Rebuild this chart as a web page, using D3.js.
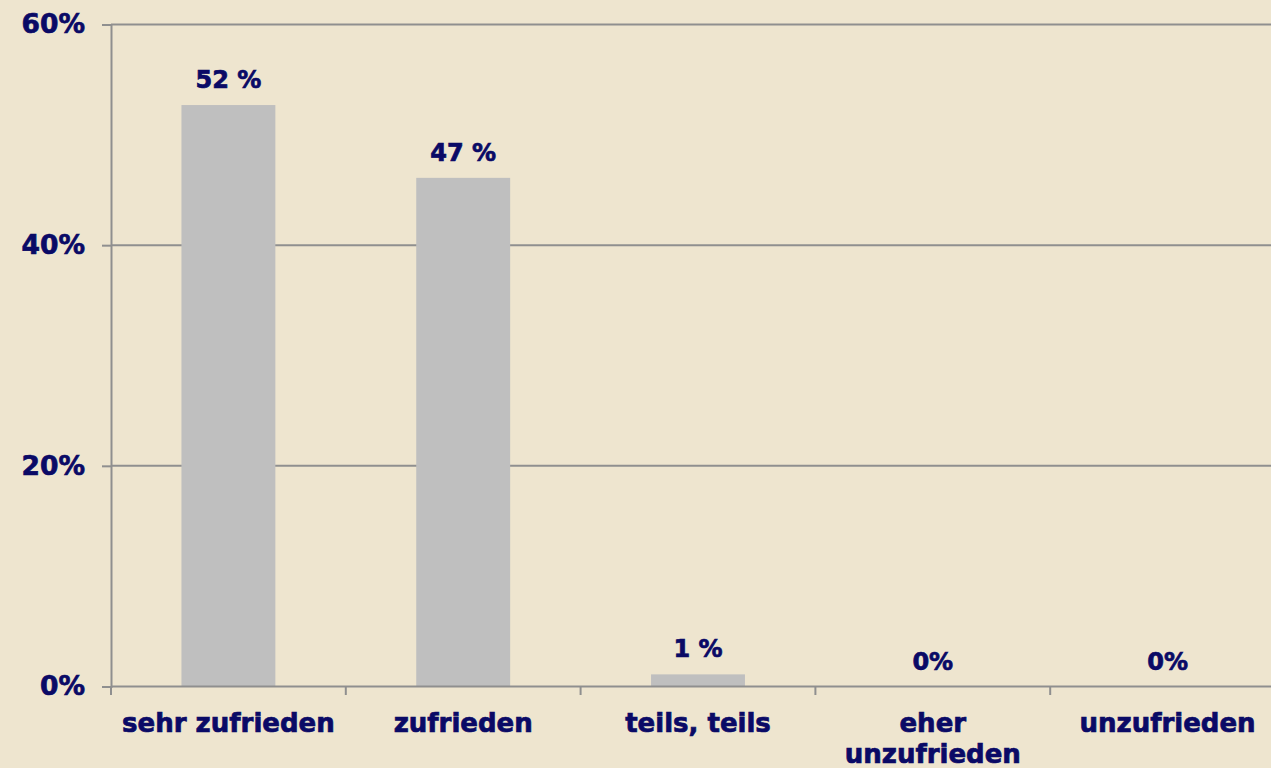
<!DOCTYPE html>
<html>
<head>
<meta charset="utf-8">
<script src="https://cdn.jsdelivr.net/npm/d3@7"></script>
<style>
html, body { margin: 0; padding: 0; background: #EEE5CF; }
svg { display: block; }
</style>
</head>
<body>
<svg id="chart" width="1271" height="768"></svg>
<script>
const categories = ["sehr zufrieden", "zufrieden", "teils, teils", "eher unzufrieden", "unzufrieden"];
const categoryLines = [["sehr zufrieden"], ["zufrieden"], ["teils, teils"], ["eher", "unzufrieden"], ["unzufrieden"]];
const values = [52.7, 46.1, 1.1, 0, 0];
const valueLabels = ["52 %", "47 %", "1 %", "0%", "0%"];
const yTicks = [0, 20, 40, 60];
const yTickLabels = ["0%", "20%", "40%", "60%"];

const W = 1271, H = 768;
const margin = { left: 111, right: -14, top: 24.5, bottom: 81.5 };
const navy = "#0A0A66";
const axisColor = "#8F8F8F";
const font = "'DejaVu Sans', Verdana, sans-serif";

const svg = d3.select("#chart");
svg.append("rect").attr("width", W).attr("height", H).attr("fill", "#EEE5CF");

const x = d3.scaleBand()
  .domain(categories)
  .range([margin.left, W - margin.right])
  .paddingInner(0.6)
  .paddingOuter(0.3);

const y = d3.scaleLinear()
  .domain([0, 60])
  .range([H - margin.bottom, margin.top]);

function boldText(sel, size) {
  sel.attr("fill", navy)
    .attr("stroke", navy)
    .attr("stroke-width", 0.7)
    .attr("font-family", font)
    .attr("font-weight", "bold")
    .attr("font-size", size);
}

// gridlines
svg.append("g")
  .selectAll("line")
  .data(yTicks.filter(d => d > 0))
  .join("line")
  .attr("x1", margin.left)
  .attr("x2", W)
  .attr("y1", d => y(d))
  .attr("y2", d => y(d))
  .attr("stroke", axisColor)
  .attr("stroke-width", 2);

// bars
svg.append("g")
  .selectAll("rect")
  .data(values)
  .join("rect")
  .attr("x", (d, i) => x(categories[i]))
  .attr("width", x.bandwidth())
  .attr("y", d => y(d))
  .attr("height", d => y(0) - y(d))
  .attr("fill", "#BFBFBF");

// y axis
const yAxis = d3.axisLeft(y)
  .tickValues(yTicks)
  .tickFormat((d, i) => yTickLabels[i])
  .tickSize(9)
  .tickPadding(17);
const gy = svg.append("g").attr("transform", `translate(${margin.left},0)`).call(yAxis);
gy.select(".domain").attr("stroke", axisColor).attr("stroke-width", 2);
gy.selectAll(".tick line").attr("stroke", axisColor).attr("stroke-width", 2);
gy.selectAll(".tick text").call(boldText, 26.5);

// x axis line and ticks at band boundaries
const step = x.step();
const x0 = x.range()[0];
svg.append("line")
  .attr("x1", margin.left).attr("x2", W)
  .attr("y1", y(0)).attr("y2", y(0))
  .attr("stroke", axisColor).attr("stroke-width", 2);
svg.append("g")
  .selectAll("line")
  .data(d3.range(categories.length + 1))
  .join("line")
  .attr("x1", i => x0 + i * step)
  .attr("x2", i => x0 + i * step)
  .attr("y1", y(0))
  .attr("y2", y(0) + 8.5)
  .attr("stroke", axisColor)
  .attr("stroke-width", 2);

// category labels
const cl = svg.append("g")
  .selectAll("text")
  .data(categoryLines)
  .join("text")
  .attr("x", (d, i) => x(categories[i]) + x.bandwidth() / 2)
  .attr("y", y(0) + 45)
  .attr("text-anchor", "middle")
  .call(boldText, 26);
cl.selectAll("tspan")
  .data(d => d)
  .join("tspan")
  .attr("x", function () { return d3.select(this.parentNode).attr("x"); })
  .attr("dy", (d, i) => i === 0 ? 0 : 31)
  .text(d => d);

// value labels
svg.append("g")
  .selectAll("text")
  .data(values)
  .join("text")
  .attr("x", (d, i) => x(categories[i]) + x.bandwidth() / 2)
  .attr("y", d => y(d) - 17)
  .attr("text-anchor", "middle")
  .call(boldText, 24)
  .text((d, i) => valueLabels[i]);
</script>
</body>
</html>
